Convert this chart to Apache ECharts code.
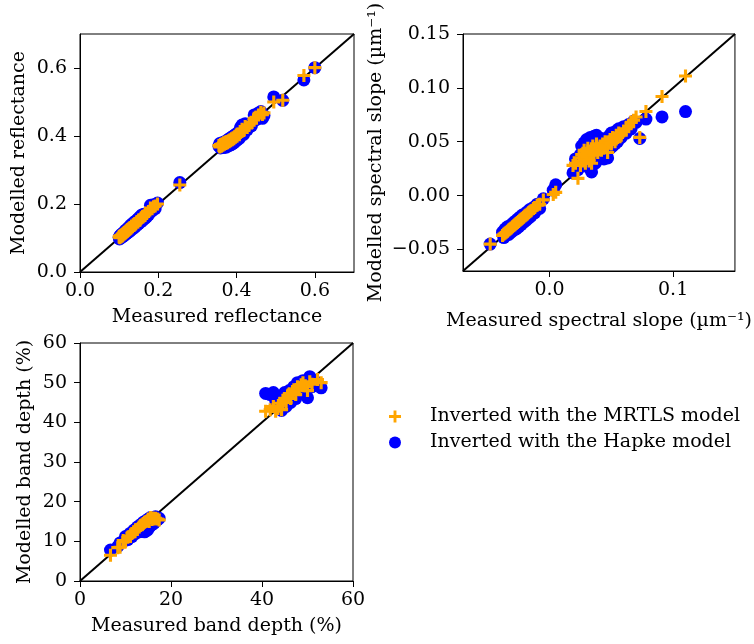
<!DOCTYPE html>
<html>
<head>
<meta charset="utf-8">
<script src="https://cdn.jsdelivr.net/npm/echarts@6/dist/echarts.min.js"></script>
<style>html,body{margin:0;padding:0;background:#fff}#c{width:754px;height:644px}</style>
</head>
<body>
<div id="c"></div>
<script>
// ---------- DATA ----------
// Panel 1: reflectance
const reflMeasured = [0.100,0.101,0.102,0.104,0.105,0.106,0.108,0.109,0.110,0.112,0.113,0.114,0.116,0.117,0.118,0.120,0.121,0.122,0.124,0.125,0.127,0.128,0.130,0.132,0.134,0.136,0.138,0.140,0.142,0.145,0.148,0.150,0.153,0.156,0.158,0.160,0.163,0.166,0.170,0.175,0.180,0.184,0.188,0.192,0.198,
  0.255,
  0.355,0.357,0.359,0.361,0.363,0.365,0.367,0.369,0.371,0.373,0.375,0.377,0.379,0.381,0.383,0.385,0.387,0.389,0.391,0.393,0.395,0.397,0.399,0.401,0.404,0.407,0.410,0.414,0.418,0.422,0.427,0.432,0.438,0.445,0.450,0.456,0.462,0.466,0.470,
  0.495,0.518,0.572,0.600];
const reflHapke = [0.102,0.097,0.106,0.100,0.110,0.103,0.112,0.104,0.114,0.107,0.118,0.109,0.121,0.111,0.124,0.114,0.126,0.116,0.130,0.119,0.134,0.121,0.138,0.125,0.142,0.128,0.146,0.132,0.150,0.137,0.156,0.142,0.162,0.148,0.168,0.152,0.170,0.158,0.162,0.168,0.196,0.180,0.198,0.186,0.203,
  0.263,
  0.370,0.378,0.365,0.372,0.380,0.366,0.376,0.368,0.384,0.367,0.386,0.370,0.390,0.372,0.393,0.374,0.396,0.377,0.399,0.380,0.402,0.384,0.406,0.388,0.410,0.393,0.425,0.432,0.405,0.436,0.418,0.428,0.430,0.462,0.448,0.468,0.472,0.452,0.460,
  0.515,0.505,0.565,0.601];
const reflMRTLS = [0.103,0.105,0.101,0.107,0.104,0.109,0.106,0.112,0.109,0.115,0.112,0.117,0.115,0.120,0.117,0.123,0.120,0.125,0.123,0.128,0.126,0.131,0.129,0.135,0.133,0.139,0.137,0.143,0.141,0.148,0.147,0.153,0.152,0.158,0.160,0.163,0.165,0.168,0.172,0.178,0.188,0.186,0.192,0.194,0.200,
  0.256,
  0.372,0.368,0.375,0.370,0.377,0.373,0.380,0.376,0.382,0.378,0.384,0.380,0.386,0.383,0.389,0.386,0.392,0.389,0.395,0.392,0.398,0.396,0.402,0.399,0.406,0.404,0.412,0.420,0.416,0.428,0.425,0.432,0.438,0.452,0.455,0.462,0.470,0.463,0.468,
  0.500,0.505,0.578,0.601];
const reflTicks = [0, 0.2, 0.4, 0.6];
const reflRange = [0, 0.7];

// Panel 2: spectral slope (µm^-1)
const slopeMeasured = [-0.048,-0.038,-0.037,-0.036,-0.035,-0.034,-0.033,-0.032,-0.031,-0.030,-0.029,-0.028,-0.027,-0.026,-0.025,-0.024,-0.023,-0.022,-0.021,-0.020,-0.019,-0.018,-0.017,-0.016,-0.015,-0.013,-0.012,-0.010,-0.008,-0.005,
  0.003,0.005,
  0.019,0.021,0.023,0.024,0.025,0.026,0.027,0.028,0.029,0.030,0.031,0.032,0.033,0.034,0.035,0.036,0.037,0.038,0.039,0.040,0.041,0.042,0.043,0.044,0.045,0.046,0.047,0.048,0.049,0.050,0.051,0.052,0.053,0.054,0.055,0.056,0.058,0.060,0.062,0.064,0.066,0.068,0.070,
  0.073,0.078,0.091,0.110];
const slopeHapke = [-0.045,-0.034,-0.039,-0.031,-0.037,-0.029,-0.036,-0.028,-0.034,-0.026,-0.032,-0.024,-0.031,-0.022,-0.029,-0.020,-0.027,-0.018,-0.025,-0.017,-0.023,-0.015,-0.021,-0.013,-0.019,-0.011,-0.016,-0.008,-0.012,-0.003,
  0.005,0.010,
  0.021,0.034,0.024,0.030,0.038,0.046,0.028,0.049,0.033,0.052,0.040,0.026,0.054,0.022,0.045,0.055,0.030,0.056,0.036,0.050,0.038,0.053,0.040,0.034,0.052,0.042,0.035,0.055,0.044,0.058,0.046,0.058,0.048,0.060,0.050,0.062,0.054,0.064,0.058,0.066,0.062,0.069,0.068,
  0.053,0.071,0.073,0.078];
const slopeMRTLS = [-0.045,-0.037,-0.036,-0.035,-0.034,-0.033,-0.032,-0.031,-0.030,-0.029,-0.028,-0.027,-0.026,-0.025,-0.024,-0.023,-0.022,-0.021,-0.020,-0.019,-0.018,-0.017,-0.016,-0.015,-0.014,-0.012,-0.011,-0.009,-0.008,-0.004,
  0.001,0.003,
  0.028,0.030,0.016,0.035,0.028,0.038,0.032,0.042,0.030,0.036,0.044,0.032,0.040,0.030,0.046,0.038,0.042,0.048,0.040,0.044,0.046,0.042,0.048,0.044,0.050,0.045,0.040,0.050,0.052,0.048,0.054,0.052,0.050,0.056,0.054,0.058,0.056,0.060,0.062,0.064,0.068,0.070,0.073,
  0.054,0.078,0.092,0.111];
const slopeXTicks = [0, 0.1];
const slopeYTicks = [-0.05, 0, 0.05, 0.1, 0.15];
const slopeRange = [-0.07, 0.15];

// Panel 3: band depth (%)
const bdMeasured = [6.7,8.3,8.8,9.5,10.0,10.5,11.0,11.4,11.8,12.2,12.6,13.0,13.3,13.6,13.9,14.2,14.5,14.8,15.0,15.2,15.5,15.8,16.0,16.3,16.6,17.0,17.4,
  40.8,41.8,42.5,43.0,43.5,44.0,44.3,44.7,45.0,45.3,45.7,46.0,46.3,46.7,47.0,47.4,47.8,48.2,48.6,49.0,49.5,50.0,50.5,51.0,52.2,53.0];
const bdHapke = [7.8,8.7,9.6,10.0,11.2,10.4,12.0,11.2,12.8,12.0,13.6,12.4,14.2,12.6,14.8,12.4,15.2,12.8,15.6,13.5,16.0,14.2,15.6,14.6,16.2,15.4,15.8,
  47.3,47.0,47.5,45.5,44.5,46.0,43.0,45.5,47.5,44.0,46.5,48.0,45.0,47.0,49.0,46.0,50.0,47.5,48.5,50.5,48.5,46.2,51.5,49.0,50.0,48.7];
const bdMRTLS = [6.5,8.4,8.5,10.2,10.0,11.0,11.2,12.0,12.4,12.9,13.0,13.6,14.0,14.2,14.5,14.8,15.0,15.2,15.6,15.0,16.0,15.5,15.9,15.6,15.8,15.6,15.4,
  42.8,43.2,44.0,42.8,43.5,44.8,43.2,45.5,46.0,45.0,46.8,47.2,46.0,47.8,48.2,47.0,49.0,48.5,49.5,50.0,49.2,48.0,50.2,49.6,50.8,50.0];
const bdXTicks = [0, 20, 40, 60];
const bdYTicks = [0, 10, 20, 30, 40, 50, 60];
const bdRange = [0, 60];

const nameMRTLS = 'Inverted with the MRTLS model';
const nameHapke = 'Inverted with the Hapke model';

// ---------- CHART ----------
const FONT = 'DejaVu Serif';
const FS = 19;
const PLUS = 'path://M9.5,0H15.5V9.5H25V15.5H15.5V25H9.5V15.5H0V9.5H9.5Z';
const minus = s => s.replace('-', '\u2212');
const fmt = d => v => minus(Number(v).toFixed(d));

function axis(gi, range, ticks, dec, name, gap, margin) {
  return {
    type: 'value', gridIndex: gi, min: range[0], max: range[1],
    name: name, nameLocation: 'middle', nameGap: gap,
    nameTextStyle: {fontFamily: FONT, fontSize: FS, color: '#000'},
    axisLine: {show: true, onZero: false, lineStyle: {color: '#000', width: 1}},
    axisTick: {show: true, customValues: ticks, length: 6, lineStyle: {color: '#000', width: 1}},
    axisLabel: {customValues: ticks, formatter: fmt(dec), fontFamily: FONT, fontSize: FS, color: '#000', margin: margin},
    splitLine: {show: false}
  };
}
const zip = (a, b) => a.map((v, i) => [v, b[i]]);

function panelSeries(gi, measured, hapke, mrtls, range) {
  return [
    {type: 'line', xAxisIndex: gi, yAxisIndex: gi, data: [[range[0], range[0]], [range[1], range[1]]],
     symbol: 'none', lineStyle: {color: '#000', width: 2}, z: 1, silent: true},
    {type: 'scatter', name: nameHapke, xAxisIndex: gi, yAxisIndex: gi, data: zip(measured, hapke),
     symbol: 'circle', symbolSize: 13, itemStyle: {color: '#0000ff', opacity: 1}, z: 2},
    {type: 'scatter', name: nameMRTLS, xAxisIndex: gi, yAxisIndex: gi, data: zip(measured, mrtls),
     symbol: PLUS, symbolSize: 13, itemStyle: {color: '#ffa500', opacity: 1}, z: 3}
  ];
}

const gridStyle = {show: true, borderColor: '#000', borderWidth: 1, backgroundColor: 'transparent', containLabel: false};
const chart = echarts.init(document.getElementById('c'), null, {renderer: 'canvas'});
chart.setOption({
  animation: false,
  backgroundColor: '#fff',
  textStyle: {fontFamily: FONT},
  grid: [
    Object.assign({left: 80, top: 34, width: 274, height: 238}, gridStyle),
    Object.assign({left: 463, top: 34, width: 274, height: 237}, gridStyle),
    Object.assign({left: 80, top: 343, width: 273, height: 238}, gridStyle)
  ],
  xAxis: [
    axis(0, reflRange, reflTicks, 1, 'Measured reflectance', 36, 10),
    axis(1, slopeRange, slopeXTicks, 1, 'Measured spectral slope (\u00b5m\u207b\u00b9)', 41, 10),
    axis(2, bdRange, bdXTicks, 0, 'Measured band depth (%)', 36, 10)
  ],
  yAxis: [
    axis(0, reflRange, reflTicks, 1, 'Modelled reflectance', 51, 13),
    axis(1, slopeRange, slopeYTicks, 2, 'Modelled spectral slope (\u00b5m\u207b\u00b9)', 77, 13),
    axis(2, bdRange, bdYTicks, 0, 'Modelled band depth (%)', 45, 13)
  ],
  legend: {
    orient: 'vertical', left: 389, top: 407, itemGap: 7, padding: 0,
    itemWidth: 12, itemHeight: 12,
    textStyle: {fontFamily: FONT, fontSize: FS, color: '#000', padding: [0, 0, 0, 24]},
    data: [{name: nameMRTLS, icon: PLUS}, {name: nameHapke, icon: 'circle'}],
    selectedMode: false
  },
  series: [].concat(
    panelSeries(0, reflMeasured, reflHapke, reflMRTLS, reflRange),
    panelSeries(1, slopeMeasured, slopeHapke, slopeMRTLS, slopeRange),
    panelSeries(2, bdMeasured, bdHapke, bdMRTLS, bdRange)
  )
});
</script>
</body>
</html>
